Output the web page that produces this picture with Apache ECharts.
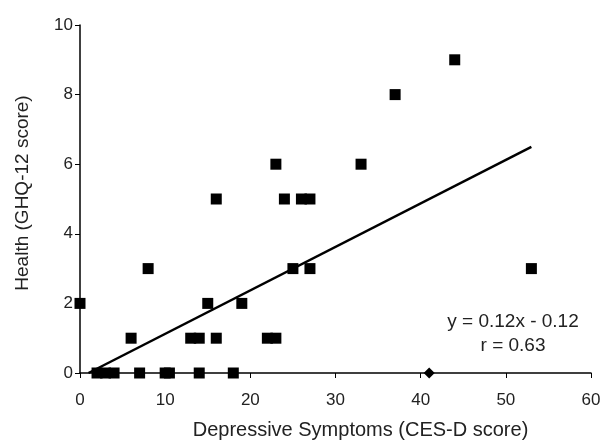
<!DOCTYPE html>
<html>
<head>
<meta charset="utf-8">
<script src="https://cdn.jsdelivr.net/npm/echarts@6/dist/echarts.min.js"></script>
<style>
  html, body { margin: 0; padding: 0; background: #fff; }
  #chart { width: 601px; height: 441px; }
</style>
</head>
<body>
<div id="chart"></div>
<script>
// CES-D score (x) vs GHQ-12 score (y)
const cesd = [0, 2, 3, 4, 7, 10, 10.5, 14, 18, 6, 13, 14, 16, 22, 23, 15, 19, 8, 25, 27, 53, 16, 24, 26, 27, 23, 33, 37, 44];
const ghq  = [2, 0, 0, 0, 0, 0, 0,    0,  0,  1, 1,  1,  1,  1,  1,  2,  2,  3, 3,  3,  3,  5,  5,  5,  5,  6,  6,  8,  9];

// odd diamond marker sitting on the x axis
const diamondX = [41];
const diamondY = [0];

// fitted line, end points as drawn
const trendX = [1, 53];
const trendY = [0, 6.5];

const xTicks = [0, 10, 20, 30, 40, 50, 60];
const yTicks = [0, 2, 4, 6, 8, 10];

const eqLines = ['y = 0.12x - 0.12', 'r = 0.63'];

const font = 'Liberation Sans, Arial, sans-serif';
const txt = '#222';

const chart = echarts.init(document.getElementById('chart'));

chart.setOption({
    animation: false,
    backgroundColor: '#fff',
    grid: { left: 80, right: 10, top: 25, bottom: 68, outerBoundsMode: 'none' },
    xAxis: {
        type: 'value',
        min: xTicks[0],
        max: xTicks[xTicks.length - 1],
        interval: 10,
        name: 'Depressive Symptoms (CES-D score)',
        nameLocation: 'middle',
        nameGap: 47,
        nameTextStyle: { fontFamily: font, fontSize: 20, color: txt, padding: [0, 0, 0, 50] },
        axisLine: { onZero: false, lineStyle: { color: '#000', width: 1.5 } },
        axisTick: { show: true, length: 5, lineStyle: { color: '#000' } },
        axisLabel: { fontFamily: font, fontSize: 17, color: txt, margin: 19 },
        splitLine: { show: false }
    },
    yAxis: {
        type: 'value',
        min: yTicks[0],
        max: yTicks[yTicks.length - 1],
        interval: 2,
        name: 'Health (GHQ-12 score)',
        nameLocation: 'middle',
        nameGap: 48,
        nameTextStyle: { fontFamily: font, fontSize: 19, color: txt, padding: [0, 0, 0, 12] },
        axisLine: { show: true, onZero: false, lineStyle: { color: '#000', width: 1.5 } },
        axisTick: { show: true, length: 5, lineStyle: { color: '#000' } },
        axisLabel: { fontFamily: font, fontSize: 17, color: txt, margin: 7 },
        splitLine: { show: false }
    },
    graphic: eqLines.map((t, i) => ({
        type: 'text',
        style: {
            text: t,
            x: 513,
            y: 322 + i * 24,
            fontFamily: font,
            fontSize: 19,
            fill: txt,
            align: 'center',
            verticalAlign: 'middle'
        }
    })),
    series: [
        {
            type: 'line',
            data: trendX.map((x, i) => [x, trendY[i]]),
            symbol: 'none',
            lineStyle: { color: '#000', width: 2.5 },
            z: 3
        },
        {
            type: 'scatter',
            data: cesd.map((x, i) => [x, ghq[i]]),
            symbol: 'rect',
            symbolSize: 11,
            itemStyle: { color: '#000', opacity: 1 },
            z: 4
        },
        {
            type: 'scatter',
            data: diamondX.map((x, i) => [x, diamondY[i]]),
            symbol: 'diamond',
            symbolSize: 11,
            itemStyle: { color: '#000', opacity: 1 },
            z: 4
        }
    ]
});
</script>
</body>
</html>
